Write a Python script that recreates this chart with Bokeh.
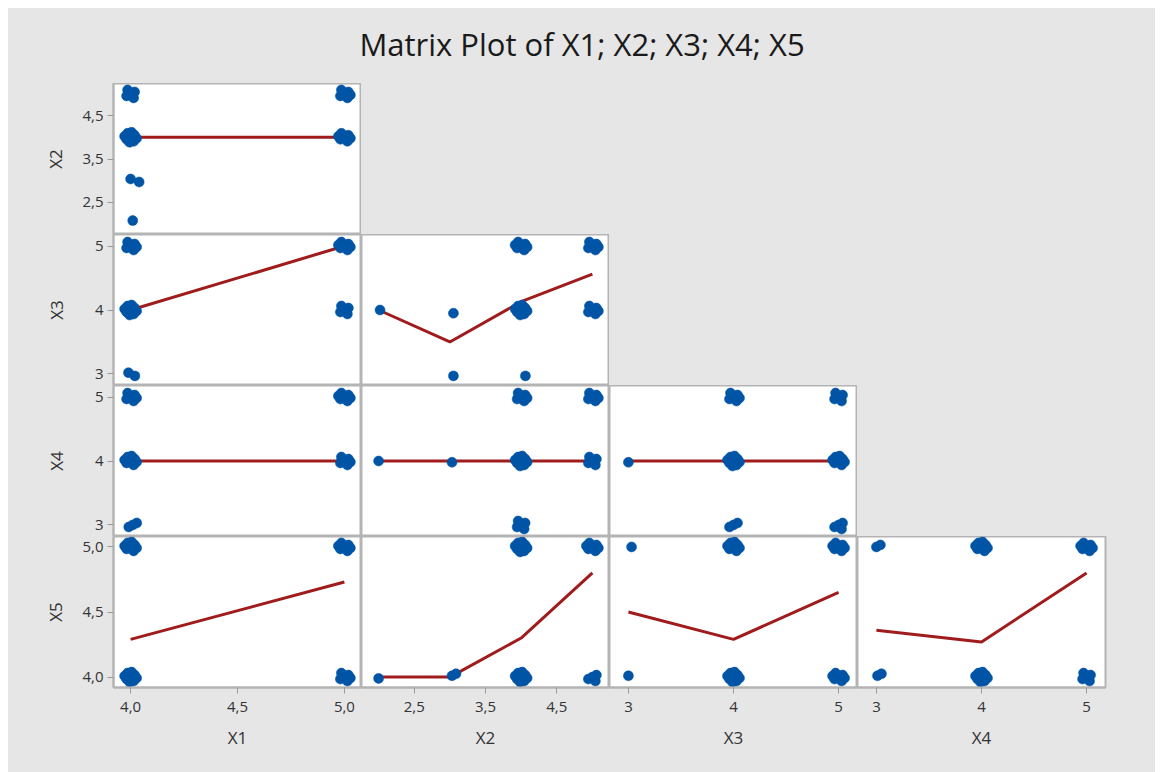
from bokeh.plotting import figure
from bokeh.layouts import gridplot, column
from bokeh.models import Range1d, FixedTicker
from bokeh.embed import file_html
from bokeh.resources import INLINE

TITLE = "Matrix Plot of X1; X2; X3; X4; X5"
VARS = ["X1", "X2", "X3", "X4", "X5"]

# axis ranges per variable
RANGE_X1 = (3.92, 5.08)
RANGE_X2 = (1.76, 5.24)
RANGE_X3 = (2.82, 5.18)
RANGE_X4 = (2.82, 5.18)
RANGE_X5 = (3.92, 5.08)

# tick values and labels (comma decimal)
TICKS_X1 = [4.0, 4.5, 5.0]
LABELS_X1 = ["4,0", "4,5", "5,0"]
TICKS_X2 = [2.5, 3.5, 4.5]
LABELS_X2 = ["2,5", "3,5", "4,5"]
TICKS_X3 = [3, 4, 5]
LABELS_X3 = ["3", "4", "5"]
TICKS_X4 = [3, 4, 5]
LABELS_X4 = ["3", "4", "5"]
TICKS_X5 = [4.0, 4.5, 5.0]
LABELS_X5 = ["4,0", "4,5", "5,0"]

# point clusters: (x value, y value, number of overlapping dots)
PTS_X1_X2 = [(4, 5, 5), (4, 4, 9), (4.0, 3.04, 1), (4.04, 2.97, 1), (4.01, 2.08, 1), (5, 5, 6), (5, 4, 7)]
PTS_X1_X3 = [(4, 5, 6), (4, 4, 9), (3.99, 3.02, 1), (4.02, 2.97, 1), (5, 5, 7), (5, 4, 5)]
PTS_X2_X3 = [(2.02, 4.0, 1), (3.05, 3.95, 1), (3.05, 2.97, 1), (4, 5, 7), (4, 4, 9), (4.06, 2.97, 1), (5, 5, 6), (5, 4, 6)]
PTS_X1_X4 = [(4, 5, 6), (4, 4, 8), (4.01, 3.0, 3), (5, 5, 7), (5, 4, 6)]
PTS_X2_X4 = [(2.0, 4.0, 1), (3.03, 3.98, 1), (4, 5, 6), (4, 4, 9), (4, 3, 5), (5, 5, 6), (5, 4, 5)]
PTS_X3_X4 = [(3.0, 3.98, 1), (4, 5, 6), (4, 4, 9), (4, 3, 3), (5, 5, 5), (5, 4, 8), (5, 3, 4)]
PTS_X1_X5 = [(4, 5, 8), (4, 4, 9), (5, 5, 7), (5, 4, 6)]
PTS_X2_X5 = [(2.0, 3.99, 1), (3.03, 4.01, 2), (4, 5, 9), (4, 4, 9), (5, 5, 7), (5, 4, 4)]
PTS_X3_X5 = [(3.03, 5.0, 1), (3.0, 4.01, 1), (4, 5, 8), (4, 4, 9), (5, 5, 7), (5, 4, 7)]
PTS_X4_X5 = [(3.0, 5.0, 2), (3.01, 4.01, 2), (4, 5, 8), (4, 4, 9), (5, 5, 7), (5, 4, 5)]

# smoother lines
FIT_X1_X2 = ([4, 5], [4.0, 4.0])
FIT_X1_X3 = ([4, 5], [4.0, 5.0])
FIT_X2_X3 = ([2, 3, 4, 5], [4.0, 3.5, 4.13, 4.56])
FIT_X1_X4 = ([4, 5], [4.0, 4.0])
FIT_X2_X4 = ([2, 3, 4, 5], [4.0, 4.0, 4.0, 4.0])
FIT_X3_X4 = ([3, 4, 5], [4.0, 4.0, 4.0])
FIT_X1_X5 = ([4, 5], [4.29, 4.73])
FIT_X2_X5 = ([2, 3, 4, 5], [4.0, 4.0, 4.3, 4.8])
FIT_X3_X5 = ([3, 4, 5], [4.5, 4.29, 4.65])
FIT_X4_X5 = ([3, 4, 5], [4.36, 4.27, 4.8])

# fixed spread pattern (pixels) used to draw overlapping dots of a cluster
SPREAD = [(0, 0), (4, 2), (-4, -2), (3, -4), (-3, 4), (6, -1), (-6, 1), (1, 5), (-1, -5)]

RANGES = dict(X1=RANGE_X1, X2=RANGE_X2, X3=RANGE_X3, X4=RANGE_X4, X5=RANGE_X5)
TICKS = dict(X1=(TICKS_X1, LABELS_X1), X2=(TICKS_X2, LABELS_X2), X3=(TICKS_X3, LABELS_X3),
             X4=(TICKS_X4, LABELS_X4), X5=(TICKS_X5, LABELS_X5))
PTS = {("X1", "X2"): PTS_X1_X2, ("X1", "X3"): PTS_X1_X3, ("X2", "X3"): PTS_X2_X3,
       ("X1", "X4"): PTS_X1_X4, ("X2", "X4"): PTS_X2_X4, ("X3", "X4"): PTS_X3_X4,
       ("X1", "X5"): PTS_X1_X5, ("X2", "X5"): PTS_X2_X5, ("X3", "X5"): PTS_X3_X5,
       ("X4", "X5"): PTS_X4_X5}
FITS = {("X1", "X2"): FIT_X1_X2, ("X1", "X3"): FIT_X1_X3, ("X2", "X3"): FIT_X2_X3,
        ("X1", "X4"): FIT_X1_X4, ("X2", "X4"): FIT_X2_X4, ("X3", "X4"): FIT_X3_X4,
        ("X1", "X5"): FIT_X1_X5, ("X2", "X5"): FIT_X2_X5, ("X3", "X5"): FIT_X3_X5,
        ("X4", "X5"): FIT_X4_X5}

BG = "#e6e6e6"
FRAME = "#b4b4b4"
BLUE = "#0054a6"
RED = "#a01c1c"
TXT = "#333333"
FONT = "Open Sans"
FW, FH = 248, 151
LEFT_B, RIGHT_B, BOTTOM_B = 105, 50, 85


def style_axis(ax, var, label_standoff, tick_standoff):
    ticks, labels = TICKS[var]
    ax.ticker = FixedTicker(ticks=ticks)
    ax.major_label_overrides = {t: l for t, l in zip(ticks, labels)}
    ax.axis_label = var
    ax.axis_label_text_font = FONT
    ax.axis_label_text_font_size = "17px"
    ax.axis_label_text_font_style = "normal"
    ax.axis_label_text_color = TXT
    ax.axis_label_standoff = label_standoff
    ax.major_label_text_font = FONT
    ax.major_label_text_font_size = "15px"
    ax.major_label_text_color = TXT
    ax.major_label_standoff = tick_standoff
    ax.major_tick_in = 0
    ax.major_tick_out = 6
    ax.major_tick_line_color = "#9a9a9a"
    ax.minor_tick_line_color = None
    ax.axis_line_color = FRAME
    ax.axis_line_width = 2


def panel(xv, yv, r, c):
    p = figure(frame_width=FW, frame_height=FH, min_border=0,
               min_border_left=LEFT_B if c == 0 else 0,
               min_border_right=RIGHT_B if c == 3 else 0,
               min_border_bottom=BOTTOM_B if r == 3 else 0,
               x_range=Range1d(*RANGES[xv]), y_range=Range1d(*RANGES[yv]),
               x_axis_location="below" if r == 3 else None,
               y_axis_location="left" if c == 0 else None,
               toolbar_location=None, output_backend="svg")
    p.background_fill_color = "white"
    p.border_fill_color = BG
    p.outline_line_color = FRAME
    p.outline_line_width = 2
    p.grid.visible = False
    if r == 3:
        style_axis(p.xaxis[0], xv, 11, 8)
    if c == 0:
        style_axis(p.yaxis[0], yv, 12 if yv in ("X2", "X5") else 24, 4)
    fx, fy = FITS[(xv, yv)]
    p.line(fx, fy, line_color=RED, line_width=3)
    x0, x1 = RANGES[xv]
    y0, y1 = RANGES[yv]
    sx = (x1 - x0) / FW
    sy = (y1 - y0) / FH
    xs, ys = [], []
    for (cx, cy, n) in PTS[(xv, yv)]:
        for (dx, dy) in SPREAD[:n]:
            xs.append(cx + dx * sx)
            ys.append(cy + dy * sy)
    p.scatter(xs, ys, size=10, fill_color=BLUE, line_color=BLUE, line_width=0.5)
    return p


def blank(w, h):
    b = figure(width=w, height=h, min_border=0, x_axis_location=None, y_axis_location=None,
               toolbar_location=None, output_backend="svg")
    b.outline_line_color = None
    b.border_fill_color = None
    b.background_fill_color = None
    b.grid.visible = False
    return b


rows = []
for r in range(4):
    yv = VARS[r + 1]
    row = []
    for c in range(4):
        if c <= r:
            row.append(panel(VARS[c], yv, r, c))
        else:
            row.append(blank(FW + (RIGHT_B if c == 3 else 0), FH))
    rows.append(row)

grid = gridplot(rows, toolbar_location=None)

total_w = LEFT_B + 4 * FW + RIGHT_B
tfig = figure(width=total_w, height=75, min_border=0, min_border_top=61,
              x_axis_location=None, y_axis_location=None,
              toolbar_location=None, output_backend="svg", title=TITLE)
tfig.title.align = "center"
tfig.title.text_font = FONT
tfig.title.text_font_size = "31px"
tfig.title.text_font_style = "normal"
tfig.title.text_color = "#1a1a1a"
tfig.outline_line_color = None
tfig.border_fill_color = None
tfig.background_fill_color = None
tfig.grid.visible = False

layout = column(tfig, grid, margin=(8, 0, 0, 8), styles={"background-color": BG})
open("out.html", "w").write(file_html(layout, INLINE))
